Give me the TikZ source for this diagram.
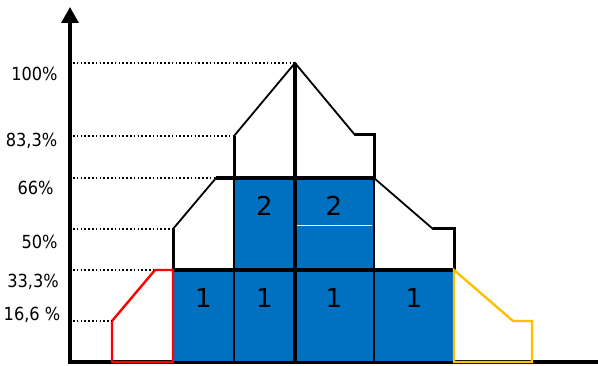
\documentclass[tikz,border=0pt]{standalone}
\usepackage{fontspec}
\setmainfont{DejaVu Sans Condensed}
\newfontfamily\cellfont{DejaVu Sans}
\usetikzlibrary{arrows.meta}
\definecolor{boxblue}{HTML}{0070C0}
\definecolor{stepgold}{HTML}{FFC000}
\definecolor{stepred}{HTML}{FF0000}

\begin{document}
\begin{tikzpicture}[x=1pt,y=-1pt,every node/.style={font=\fontsize{18}{21}\selectfont,inner sep=0pt},
  lvl/.style={line width=1.6pt,dash pattern=on 1.6pt off 2.2pt},
  cell/.style={fill=boxblue,draw=black,line width=2.2pt},
  num/.style={font=\cellfont\fontsize{26}{30}\selectfont}]
\useasboundingbox (0,0) rectangle (598,366);
% axes
\coordinate (o) at (70,362);
\coordinate (ytop) at (70,7);
\coordinate (xend) at (598,362);
\draw[line width=3.2pt,-{Triangle[length=16pt,width=17pt]}] (o)--(ytop);
\draw[line width=3.2pt] (68.4,362)--(xend);
% blue cells
\draw[cell] (173,270) rectangle (234,362);
\draw[cell] (234,270) rectangle (295,362);
\draw[cell] (295,270) rectangle (374,362);
\draw[cell] (374,270) rectangle (454,362);
\draw[cell] (234,178) rectangle (295,270);
\draw[cell] (295,178) rectangle (374,270);
\draw[white,line width=1pt] (297,226)--(372,226);
\node[num] (c1) at (203.5,298) {1};
\node[num] (c2) at (264.5,298) {1};
\node[num] (c3) at (334,298) {1};
\node[num] (c4) at (414,298) {1};
\node[num] (c5) at (264.5,205.5) {2};
\node[num] (c6) at (334,205.5) {2};
% outline
\coordinate (p1) at (173,270);
\coordinate (p2) at (173,229);
\coordinate (p3) at (216,178);
\coordinate (p4) at (234,178);
\coordinate (p5) at (234,136);
\coordinate (top) at (295,63);
\coordinate (p7) at (355,135);
\coordinate (p8) at (374,135);
\coordinate (p9) at (374,178);
\coordinate (p10) at (433,229);
\coordinate (p11) at (454,229);
\coordinate (p12) at (454,270);
\draw[line width=1.8pt,line join=miter] (p1)--(p2)--(p3)--(p4)--(p5)--(top)--(p7)--(p8)--(p9)--(p10)--(p11)--(p12);
\draw[line width=3pt] (p2)--(p1);
\draw[line width=3pt] (p4)--(p5);
\draw[line width=3pt] (p7)--(p8)--(p9);
\draw[line width=3pt] (p10)--(p11)--(p12);
\draw[line width=3.6pt] (p3)--(p9);
\draw[line width=3.6pt] (p1)--(p12);
\draw[line width=4pt] (top)--(295,362);
% red and gold steps
\coordinate (r1) at (112,362);
\coordinate (r2) at (112,321);
\coordinate (r3) at (155,270);
\draw[stepred,line width=2.4pt] (r1)--(r2)--(r3)--(p1)--(173,362)--cycle;
\coordinate (g1) at (513,321);
\coordinate (g2) at (532,321);
\coordinate (g3) at (532,362);
\draw[stepgold,line width=2.4pt] (p12)--(g1)--(g2)--(g3)--(454,362)--cycle;
% levels
\foreach \lv/\nm/\lx/\ly/\txt in {top/l1/34.5/73.5/100\%,p5/l2/31.5/141/{83,3\%},p3/l3/35.5/188/66\%,
    p2/l4/39.5/242/50\%,r3/l5/33/282/{33,3\%},r2/l6/32/315/{16,6 \%}}{
  \node (\nm) at (\lx,\ly) {\txt};
  \draw[lvl] (73,0|-\lv)--(\lv);
}
\end{tikzpicture}
\end{document}
